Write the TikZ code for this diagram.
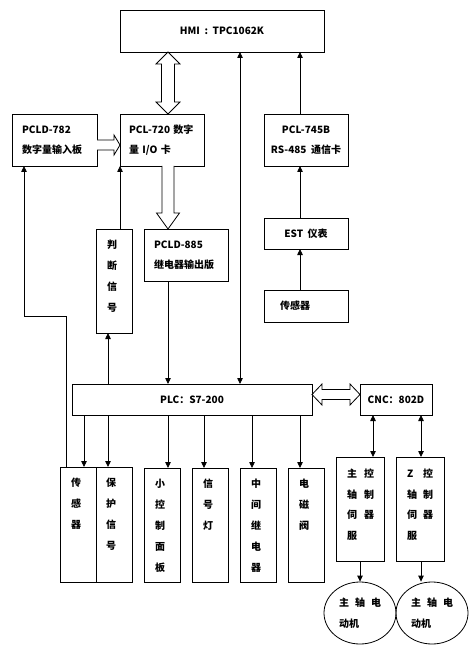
\documentclass[tikz,border=0pt]{standalone}
\usepackage{fontspec}
\setmainfont{Noto Sans CJK SC}[WordSpace=2]
\usetikzlibrary{arrows.meta,calc,shapes.geometric}
\begin{document}
\begin{tikzpicture}[x=1pt,y=-1pt,
  every node/.style={font=\bfseries\fontsize{10}{20}\selectfont},
  box/.style={draw, line width=0.8pt, inner sep=0pt, outer sep=0pt, anchor=north west},
  vtxt/.style={anchor=north, inner sep=0pt, align=center, font=\bfseries\fontsize{10}{21}\selectfont},
  arr/.style={line width=0.8pt, -{Triangle[width=5.5pt,length=6pt]}},
  darr/.style={line width=0.8pt, {Triangle[width=5.5pt,length=6pt]}-{Triangle[width=5.5pt,length=6pt]}},
  hollow/.style={draw, fill=white, line width=0.8pt, line join=miter}]
\useasboundingbox (0,0) rectangle (471,655);
% guide coordinates
\foreach \gx in {84,108,120,168,204,240,252,300,373,421}{\coordinate (g\gx) at (\gx,0);}
% top row
\node[box, minimum width=204pt, minimum height=42pt] (hmi) at (120,10) {HMI : TPC1062K};
\node[box, minimum height=52pt, text width=65pt, inner xsep=10pt, align=left] (pcld782) at (12,114) {PCLD-782\\数字量输入板};
\node[box, minimum height=52pt, text width=66pt, inner xsep=9pt, align=left] (pcl720) at (120,114) {PCL-720 数字\\量 I/O 卡};
\node[box, minimum width=84pt, minimum height=52pt, align=center] (pcl745) at (264,114) {PCL-745B\\RS-485 通信卡};
% middle
\node[box, minimum width=36pt, minimum height=104pt] (judge) at (96,229) {};
\node[vtxt] (tjudge) at ([xshift=16pt,yshift=-10.5pt]judge.north west) {判\\断\\信\\号};
\node[box, minimum height=52pt, text width=64pt, inner xsep=10pt, align=left] (pcld885) at (144,229) {PCLD-885\\继电器输出版};
\node[box, minimum width=84pt, minimum height=31pt] (est) at (264,218) {EST 仪表};
\node[box, minimum height=32pt, text width=52pt, inner xsep=16pt, align=left] (sensR) at (264,290) {传感器};
\node[box, minimum width=240pt, minimum height=31pt] (plc) at (72,384) {PLC：S7-200};
\node[box, minimum width=72pt, minimum height=31pt] (cnc) at (360,384) {CNC：802D};
% bottom boxes
\node[box, minimum width=36pt, minimum height=115pt] (sens1) at (60,467) {};
\node[box, minimum width=36pt, minimum height=115pt] (prot) at (96,467) {};
\node[box, minimum width=36pt, minimum height=114pt] (panel) at (144,468) {};
\node[box, minimum width=36pt, minimum height=114pt] (lamp) at (192,468) {};
\node[box, minimum width=36pt, minimum height=114pt] (relay) at (240,468) {};
\node[box, minimum width=36pt, minimum height=114pt] (valve) at (288,468) {};
\node[vtxt] (tsens1) at ([xshift=16pt,yshift=-11pt]sens1.north west) {传\\感\\器};
\node[vtxt] (tprot) at ([xshift=15pt,yshift=-11pt]prot.north west) {保\\护\\信\\号};
\node[vtxt] (tpanel) at ([xshift=16pt,yshift=-10.5pt]panel.north west) {小\\控\\制\\面\\板};
\node[vtxt] (tlamp) at ([xshift=16pt,yshift=-10.5pt]lamp.north west) {信\\号\\灯};
\node[vtxt] (trelay) at ([xshift=16pt,yshift=-10.5pt]relay.north west) {中\\间\\继\\电\\器};
\node[vtxt] (tvalve) at ([xshift=16pt,yshift=-10.5pt]valve.north west) {电\\磁\\阀};
% servo boxes
\node[box, minimum width=48pt, minimum height=104pt] (servo1) at (336,457) {};
\node[box, minimum width=48pt, minimum height=104pt] (servo2) at (396,457) {};
\node[anchor=north west, inner sep=0pt, align=left, font=\bfseries\fontsize{10}{20.7}\selectfont] (tservo1) at ([xshift=11pt,yshift=-11.5pt]servo1.north west) {\makebox[17pt][l]{主}控\\\makebox[17pt][l]{轴}制\\\makebox[17pt][l]{伺}器\\服};
\node[anchor=north west, inner sep=0pt, align=left, font=\bfseries\fontsize{10}{20.7}\selectfont] (tservo2) at ([xshift=11pt,yshift=-11.5pt]servo2.north west) {\makebox[16pt][l]{Z}控\\\makebox[16pt][l]{轴}制\\\makebox[16pt][l]{伺}器\\服};
% motors
\node[ellipse, draw, line width=0.8pt, minimum width=72pt, minimum height=62pt, inner sep=0pt, align=left, font=\bfseries\fontsize{10}{21}\selectfont] (motor1) at (360,613) {主\hspace{6pt}轴\hspace{6pt}电\\动机};
\node[ellipse, draw, line width=0.8pt, minimum width=72pt, minimum height=62pt, inner sep=0pt, align=left, font=\bfseries\fontsize{10}{21}\selectfont] (motor2) at (432,613) {主\hspace{6pt}轴\hspace{6pt}电\\动机};
% thin arrows
\draw[arr] (sensR.north -| g300) -- (est.south -| g300);
\draw[arr] (est.north -| g300) -- (pcl745.south -| g300);
\draw[arr] (pcl745.north -| g300) -- (hmi.south -| g300);
\draw[darr] (plc.north -| g240) -- (hmi.south -| g240);
\draw[arr] (judge.north -| g120) -- (pcl720.south -| g120);
\draw[arr] (plc.north -| g108) -- (judge.south -| g108);
\draw[arr] (pcld885.south -| g168) -- (plc.north -| g168);
\foreach \b/\g in {sens1/84,prot/108,panel/168,lamp/204,relay/252,valve/300}
  \draw[arr] (plc.south -| g\g) -- (\b.north -| g\g);
\draw[darr] (cnc.south -| g373) -- (servo1.north -| g373);
\draw[darr] (cnc.south -| g421) -- (servo2.north -| g421);
\draw[arr] (servo1.south) -- (motor1.north);
\draw[arr] (servo2.south -| g421) -- (motor2.north -| g421);
\coordinate (bend) at (24,316);
\draw[arr] ([xshift=6pt]sens1.north west) |- (bend) -- (pcld782.south -| bend);
% hollow arrows
\coordinate (a) at (hmi.south -| g168);
\coordinate (b) at (pcl720.north -| g168);
\draw[hollow] (a) -- ++(12,12) -- ++(-5.5,0) -- ($(b)+(6.5,-12)$) -- ++(5.5,0) -- (b) -- ++(-12,-12) -- ++(5.5,0) -- ($(a)+(-6.5,12)$) -- ++(-5.5,0) -- cycle;
\coordinate (c) at (pcl720.south -| g168);
\coordinate (d) at (pcld885.north -| g168);
\draw[hollow] ($(c)+(-6,0)$) -- ($(d)+(-6,-16)$) -- ++(-5.5,0) -- (d) -- ++(11.5,-16) -- ++(-5.5,0) -- ($(c)+(6,0)$);
\coordinate (e) at ([yshift=-5pt]pcld782.east);
\coordinate (f) at ([yshift=-5pt]pcl720.west);
\draw[hollow] ($(e)+(0,-5)$) -- ($(f)+(-6,-5)$) -- ++(0,-5) -- (f) -- ++(-6,10) -- ++(0,-5) -- ($(e)+(0,5)$);
\coordinate (h) at ([yshift=5pt]plc.east);
\coordinate (k) at ([yshift=5pt]cnc.west);
\draw[hollow] (h) -- ++(10,-10.5) -- ++(0,5.5) -- ($(k)+(-10,-5)$) -- ++(0,-5.5) -- (k) -- ++(-10,10.5) -- ++(0,-5.5) -- ($(h)+(10,5)$) -- ++(0,5.5) -- cycle;
\end{tikzpicture}
\end{document}
